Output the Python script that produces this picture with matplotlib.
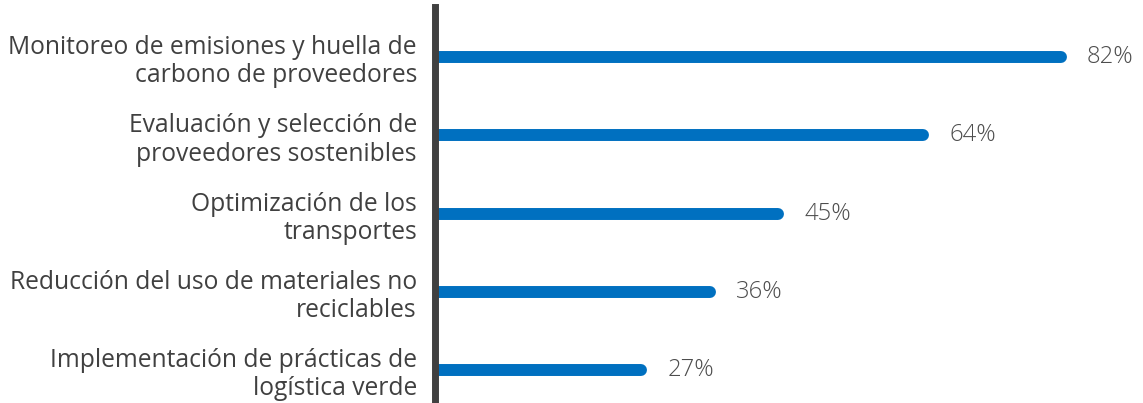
import matplotlib
matplotlib.use("Agg")
import matplotlib.pyplot as plt

categories = [
    "Monitoreo de emisiones y huella de\ncarbono de proveedores",
    "Evaluación y selección de\nproveedores sostenibles",
    "Optimización de los\ntransportes",
    "Reducción del uso de materiales no\nreciclables",
    "Implementación de prácticas de\nlogística verde",
]
values = [82, 64, 45, 36, 27]

plt.rcParams["font.family"] = ["Open Sans", "DejaVu Sans"]

W, H, DPI = 1143, 403, 100
fig = plt.figure(figsize=(W / DPI, H / DPI), dpi=DPI)
ax = fig.add_axes([435 / W, 0, 1 - 435 / W, 1 - 7 / H])

bar_color = "#0070c0"
for i, v in enumerate(values):
    ax.plot([0, v], [i, i], color=bar_color, lw=8.6, solid_capstyle="round", zorder=2)
    ax.annotate(f"{v}%", xy=(v, i), xytext=(19, 0), textcoords="offset points",
                ha="left", va="center", fontsize=17.2, color="#4d4d4d",
                fontweight="light")

ax.set_xlim(0, (W - 435) / 7.63)
ax.set_ylim(4.42, -0.64)

ax.set_yticks(range(len(categories)))
ax.set_yticklabels(categories, fontsize=17.7, color="#404040", linespacing=1.17)
ax.tick_params(axis="y", length=0, pad=13)
ax.set_xticks([])

for s in ["top", "right", "bottom"]:
    ax.spines[s].set_visible(False)
ax.spines["left"].set_linewidth(5)
ax.spines["left"].set_color("#404040")
ax.spines["left"].set_zorder(3)
ax.patch.set_alpha(0)

fig.savefig("out.png", dpi=DPI)
